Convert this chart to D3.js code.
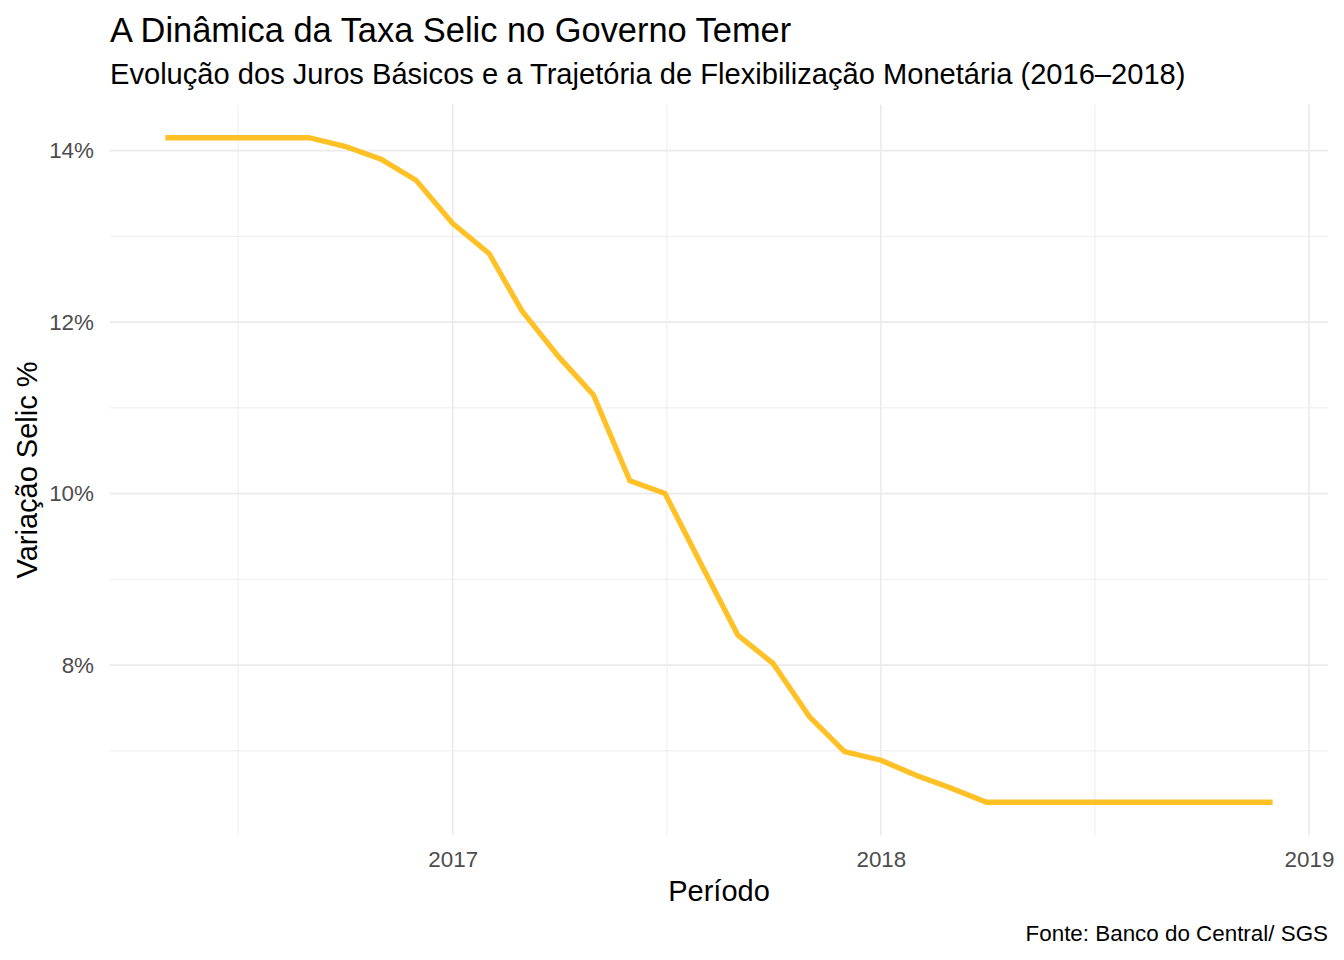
<!DOCTYPE html>
<html>
  <head>
    <meta charset="utf-8">
    <title>Selic no Governo Temer</title>
    <script src="https://cdn.jsdelivr.net/npm/d3@7"></script>
    <style>
      body { margin: 0; background: #fff; }
      svg { font-family: "Liberation Sans", Arial, sans-serif; }
    </style>
  </head>
  <body>
    <svg width="1344" height="960" id="mainsvg"></svg>
    <script>
        // monthly Selic (annualised %), May 2016 .. Dec 2018
        const months = ['2016-05', '2016-06', '2016-07', '2016-08', '2016-09', '2016-10',
          '2016-11', '2016-12', '2017-01', '2017-02', '2017-03', '2017-04', '2017-05',
          '2017-06', '2017-07', '2017-08', '2017-09', '2017-10', '2017-11', '2017-12',
          '2018-01', '2018-02', '2018-03', '2018-04', '2018-05', '2018-06', '2018-07',
          '2018-08', '2018-09', '2018-10', '2018-11', '2018-12'];
        const selic = [14.15, 14.15, 14.15, 14.15, 14.15, 14.05,
          13.90, 13.65, 13.15, 12.80, 12.13, 11.60, 11.15,
          10.15, 10.00, 9.17, 8.35, 8.02, 7.40, 6.99,
          6.89, 6.71, 6.57, 6.40, 6.40, 6.40, 6.40,
          6.40, 6.40, 6.40, 6.40, 6.40];
        const xTickYears = ['2017', '2018', '2019'];
        const yTicks = [8, 10, 12, 14];
        const yMinorTicks = [7, 9, 11, 13];

        const parseMonth = d3.timeParse('%Y-%m');
        const data = months.map((m, i) => ({date: parseMonth(m), value: selic[i]}));

        const svg = d3.select('#mainsvg');
        const panel = {left: 110, right: 1328, top: 104.5, bottom: 835.5};

        // ggplot-style 5% expansion
        const xExt = d3.extent(data, d => d.date);
        const xPad = (xExt[1] - xExt[0]) * 0.05;
        const x = d3.scaleTime()
        .domain([new Date(+xExt[0] - xPad), new Date(+xExt[1] + xPad)])
        .range([panel.left, panel.right]);

        const yExt = d3.extent(data, d => d.value);
        const yPad = (yExt[1] - yExt[0]) * 0.05;
        const y = d3.scaleLinear()
        .domain([yExt[0] - yPad, yExt[1] + yPad])
        .range([panel.bottom, panel.top]);

        const xTicks = xTickYears.map(d3.timeParse('%Y'));
        // minor breaks sit half way between major ones
        const xMinor = [d3.timeParse('%Y')('2016')].concat(xTicks).slice(0, -1)
        .map((d, i) => new Date((+d + +xTicks[i]) / 2));

        const grid = svg.append('g').attr('id', 'grid');
        grid.selectAll('line.ymin').data(yMinorTicks).join('line')
        .attr('class', 'ymin')
        .attr('x1', panel.left).attr('x2', panel.right)
        .attr('y1', d => y(d)).attr('y2', d => y(d))
        .attr('stroke', '#ebebeb').attr('stroke-width', 0.9);
        grid.selectAll('line.xmin').data(xMinor).join('line')
        .attr('class', 'xmin')
        .attr('y1', panel.top).attr('y2', panel.bottom)
        .attr('x1', d => x(d)).attr('x2', d => x(d))
        .attr('stroke', '#ebebeb').attr('stroke-width', 0.9);
        grid.selectAll('line.ymaj').data(yTicks).join('line')
        .attr('class', 'ymaj')
        .attr('x1', panel.left).attr('x2', panel.right)
        .attr('y1', d => y(d)).attr('y2', d => y(d))
        .attr('stroke', '#ebebeb').attr('stroke-width', 1.6);
        grid.selectAll('line.xmaj').data(xTicks).join('line')
        .attr('class', 'xmaj')
        .attr('y1', panel.top).attr('y2', panel.bottom)
        .attr('x1', d => x(d)).attr('x2', d => x(d))
        .attr('stroke', '#ebebeb').attr('stroke-width', 1.6);

        // axes: ticks only, no domain line
        const xAxis = svg.append('g')
        .attr('transform', `translate(0, ${panel.bottom})`)
        .call(d3.axisBottom(x).tickValues(xTicks).tickFormat(d3.timeFormat('%Y'))
          .tickSize(0).tickPadding(16));
        const yAxis = svg.append('g')
        .attr('transform', `translate(${panel.left}, 0)`)
        .call(d3.axisLeft(y).tickValues(yTicks).tickFormat(d => d + '%')
          .tickSize(0).tickPadding(16));
        [xAxis, yAxis].forEach(a => {
          a.select('.domain').remove();
          a.selectAll('text').attr('fill', '#4d4d4d')
          .style('font-size', '22.4px').style('font-family', '"Liberation Sans", Arial, sans-serif');
        });

        const line = d3.line().x(d => x(d.date)).y(d => y(d.value));
        svg.append('path').datum(data)
        .attr('d', line)
        .attr('fill', 'none')
        .attr('stroke', '#ffc125')
        .attr('stroke-width', 5.3)
        .attr('stroke-linejoin', 'round');

        // texts
        svg.append('text').attr('x', 110).attr('y', 42)
        .style('font-size', '34.4px').attr('fill', '#000')
        .text('A Dinâmica da Taxa Selic no Governo Temer');
        svg.append('text').attr('x', 110).attr('y', 84)
        .style('font-size', '29.1px').attr('fill', '#000')
        .text('Evolução dos Juros Básicos e a Trajetória de Flexibilização Monetária (2016–2018)');
        svg.append('text').attr('x', (panel.left + panel.right) / 2).attr('y', 901)
        .attr('text-anchor', 'middle')
        .style('font-size', '29px').attr('fill', '#000')
        .text('Período');
        svg.append('text')
        .attr('transform', `translate(37, ${(panel.top + panel.bottom) / 2}) rotate(-90)`)
        .attr('text-anchor', 'middle')
        .style('font-size', '29px').attr('fill', '#000')
        .text('Variação Selic %');
        svg.append('text').attr('x', 1328).attr('y', 941)
        .attr('text-anchor', 'end')
        .style('font-size', '22.4px').attr('fill', '#000')
        .text('Fonte: Banco do Central/ SGS');
    </script>
  </body>
</html>
